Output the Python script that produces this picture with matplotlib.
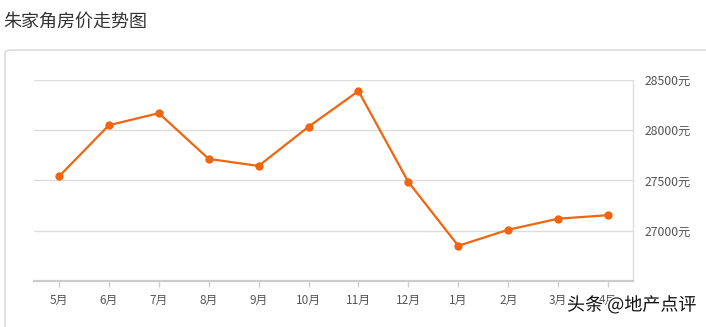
import matplotlib
matplotlib.use('agg')
import matplotlib.pyplot as plt
import matplotlib.patheffects as pe
from matplotlib.patches import FancyBboxPatch

plt.rcParams['font.family'] = ['Noto Sans CJK SC', 'DejaVu Sans']

months = ['5月', '6月', '7月', '8月', '9月', '10月', '11月', '12月', '1月', '2月', '3月', '4月']
prices = [27540, 28050, 28170, 27715, 27645, 28035, 28390, 27485, 26850, 27010, 27120, 27155]
yticks = [27000, 27500, 28000, 28500]

W, H = 706, 327
fig = plt.figure(figsize=(W / 100, H / 100), dpi=100)

# outer card border
card = FancyBboxPatch((5 / W, -0.1), 1.1, (H - 50) / H + 0.1,
                      boxstyle='round,pad=0,rounding_size=0.01',
                      transform=fig.transFigure, fill=False,
                      edgecolor='#dcdcdc', linewidth=1.2)
fig.patches.append(card)

fig.text(3 / W, 1 - 22 / H, '朱家角房价走势图', fontsize=13, color='#333333',
         va='center', ha='left')

ax = fig.add_axes([34 / W, (H - 281) / H, (633 - 34) / W, (281 - 80) / H])
x = range(len(months))
ax.plot(x, prices, color='#f0650f', linewidth=1.6, marker='o', markersize=6,
        markeredgewidth=0, zorder=3)

ax.set_xlim(-0.5, len(months) - 0.5)
ax.set_ylim(26500, 28500)
ax.set_xticks(list(x))
ax.set_xticklabels(months)
ax.set_yticks(yticks)
ax.set_yticklabels([f'{v}元' for v in yticks])
ax.yaxis.tick_right()
ax.tick_params(axis='y', length=0, pad=8, labelsize=8.8, labelcolor='#555555')
ax.tick_params(axis='x', length=4, width=1, color='#d0d0d0', pad=5,
               labelsize=8.5, labelcolor='#555555')

ax.grid(axis='y', color='#dddddd', linewidth=1)
ax.set_axisbelow(True)
for side in ['top', 'left']:
    ax.spines[side].set_visible(False)
ax.spines['right'].set_color('#dddddd')
ax.spines['right'].set_linewidth(1)
ax.spines['bottom'].set_color('#cccccc')
ax.spines['bottom'].set_linewidth(1.6)

fig.text(567 / W, 1 - 305 / H, '头条 @地产点评', fontsize=13, color='#111111',
         va='center', ha='left',
         path_effects=[pe.withStroke(linewidth=2, foreground='white')])

fig.savefig('out.png', dpi=100)
